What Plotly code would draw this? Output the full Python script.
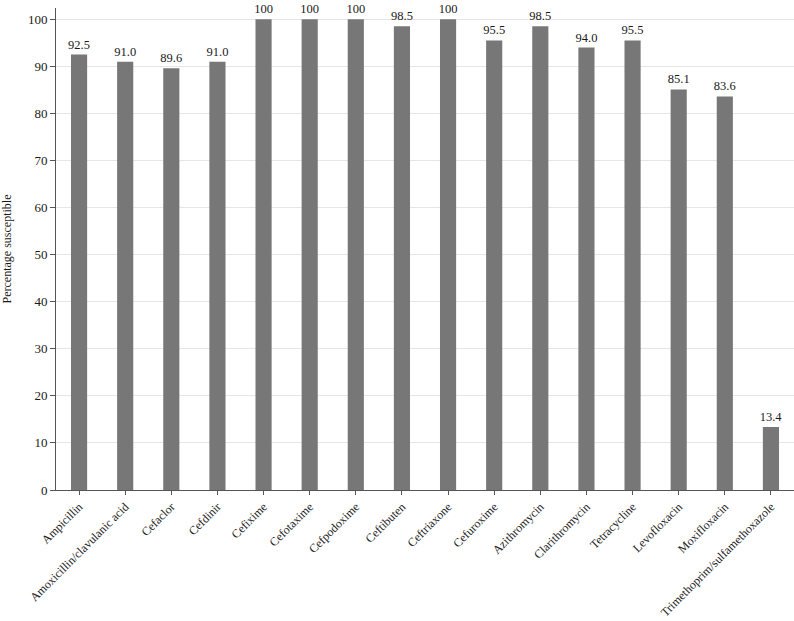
import plotly.graph_objects as go

antibiotics = ["Ampicillin", "Amoxicillin/clavulanic acid", "Cefaclor", "Cefdinir", "Cefixime",
               "Cefotaxime", "Cefpodoxime", "Ceftibuten", "Ceftriaxone", "Cefuroxime",
               "Azithromycin", "Clarithromycin", "Tetracycline", "Levofloxacin", "Moxifloxacin",
               "Trimethoprim/sulfamethoxazole"]
susceptible = [92.5, 91.0, 89.6, 91.0, 100, 100, 100, 98.5, 100, 95.5, 98.5, 94.0, 95.5, 85.1, 83.6, 13.4]
labels = ["100" if v == 100 else f"{v:.1f}" for v in susceptible]

font = "Liberation Serif, Times New Roman, serif"

fig = go.Figure(go.Bar(
    x=antibiotics, y=susceptible, text=labels, textposition="outside",
    marker=dict(color="#777777", line=dict(width=0)),
    textfont=dict(family=font, size=12.5, color="#1a1a1a"),
    cliponaxis=False, width=0.35, constraintext="none",
))
fig.update_layout(
    width=794, height=621,
    margin=dict(l=56, r=0, t=8, b=131, autoexpand=False),
    plot_bgcolor="white", paper_bgcolor="white",
    font=dict(family=font, size=12, color="#1a1a1a"),
    showlegend=False,
    bargap=0.65,
)
fig.update_yaxes(
    range=[0, 102.4], dtick=10, showgrid=True, gridcolor="#e6e6e6", gridwidth=1,
    showline=True, linecolor="#555", linewidth=1, ticks="outside", ticklen=5, tickcolor="#555",
    tickfont=dict(size=13), zeroline=False, automargin=False,
    title=dict(text="Percentage susceptible", font=dict(size=12), standoff=16),
)
fig.update_xaxes(
    showline=True, linecolor="#555", linewidth=1, ticks="outside", ticklen=4, tickcolor="#555",
    tickangle=-45, tickfont=dict(size=12), showgrid=False, automargin=False,
)
fig.write_html("out.html")
